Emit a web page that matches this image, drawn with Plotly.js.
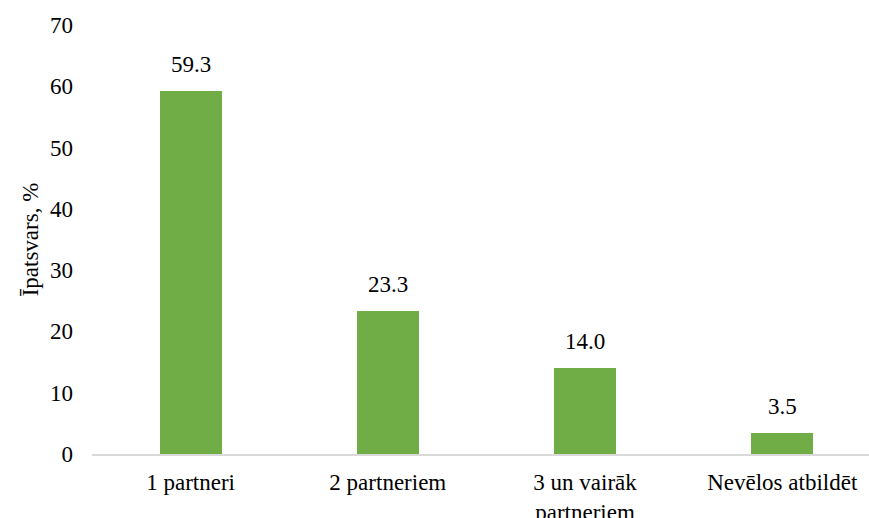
<!DOCTYPE html>
<html>
<head>
<meta charset="utf-8">
<script src="https://cdn.plot.ly/plotly-3.0.1.min.js"></script>
<style>html,body{margin:0;padding:0;background:#fff}#chart{width:869px;height:518px}</style>
</head>
<body>
<div id="chart"></div>
<script>
const categories = ["1 partneri", "2 partneriem", "3 un vairāk<br>partneriem", "Nevēlos atbildēt"];
const values = [59.3, 23.3, 14.0, 3.5];
const valueLabels = ["59.3", "23.3", "14.0", "3.5"];
const yTicks = [0, 10, 20, 30, 40, 50, 60, 70];

const font = {family: "Liberation Serif", size: 23, color: "#000"};

const trace = {
  type: "bar",
  x: categories,
  y: values,
  marker: {color: "#70AD47"},
  width: 0.315,
  hoverinfo: "none"
};

const annotations = categories.map((c, i) => ({
  x: c, y: values[i], text: valueLabels[i],
  showarrow: false, yanchor: "bottom", yshift: 12,
  font: font
}));

const layout = {
  width: 869, height: 518,
  margin: {l: 92, r: 0, t: 25, b: 64},
  paper_bgcolor: "#fff", plot_bgcolor: "#fff",
  font: font,
  showlegend: false,
  bargap: 0,
  xaxis: {
    type: "category",
    range: [-0.5, 3.44],
    showline: true, linecolor: "#d9d9d9", linewidth: 2,
    showgrid: false, zeroline: false,
    ticks: "", ticklabelstandoff: 6,
    tickfont: font
  },
  yaxis: {
    range: [0, 70],
    tickvals: yTicks,
    showgrid: false, zeroline: false, showline: false,
    ticks: "", ticklabelstandoff: 18,
    tickfont: font,
    title: {text: "Īpatsvars, %", font: font, standoff: 4}
  },
  annotations: annotations
};

Plotly.newPlot("chart", [trace], layout, {displayModeBar: false, staticPlot: true});
</script>
</body>
</html>
